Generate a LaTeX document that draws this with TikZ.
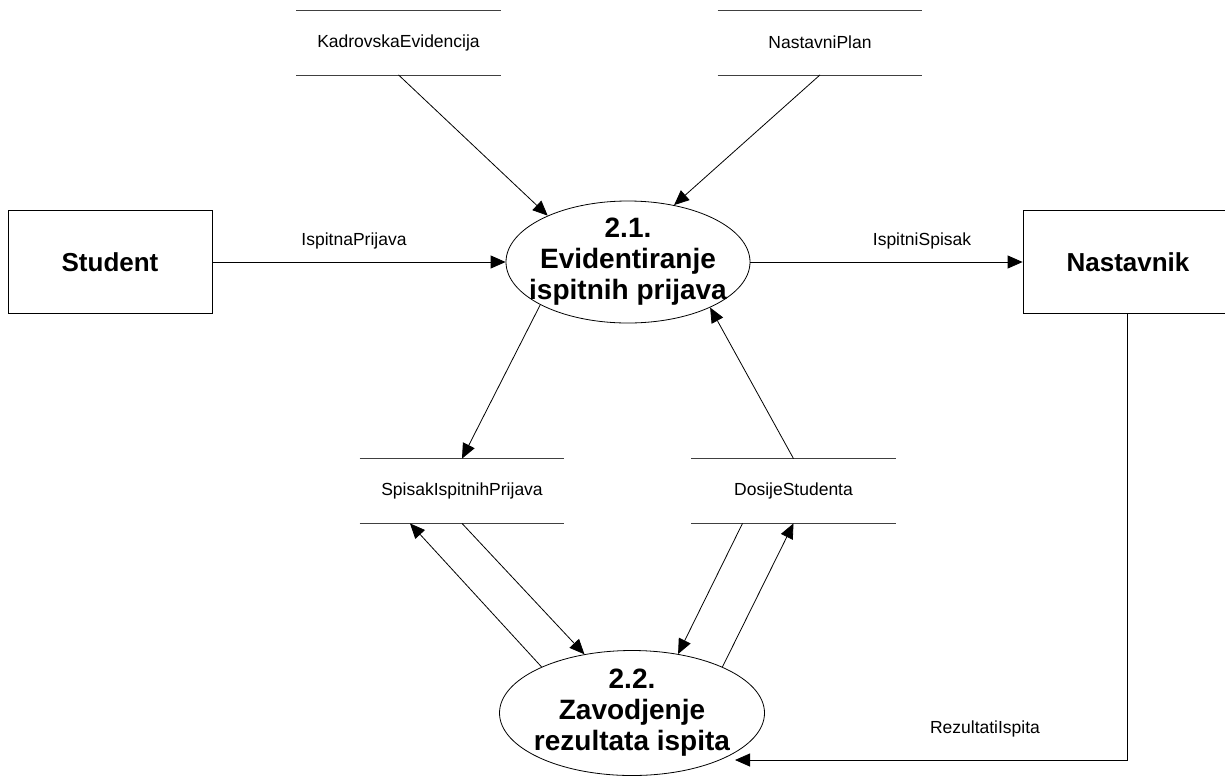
\documentclass[tikz,border=0pt]{standalone}
\usepackage{fontspec}
\setmainfont{Liberation Sans}
\usetikzlibrary{shapes.geometric,arrows.meta,calc}
\begin{document}
\begin{tikzpicture}[x=1pt,y=-1pt,
  line width=0.8pt,
  flow/.style={-{Triangle[length=15pt,width=13pt]}},
  ext/.style={draw, minimum height=103pt, inner sep=0pt, font=\bfseries\fontsize{26}{30}\selectfont},
  proc/.style={draw, ellipse, inner sep=0pt},
  store/.style={minimum width=204pt, minimum height=64pt, inner sep=0pt, font=\fontsize{17.5}{20}\selectfont},
  storeline/.style={draw=black!75},
  lbl/.style={font=\fontsize{17.5}{20}\selectfont},
  ptext/.style={font=\bfseries\fontsize{28}{31}\selectfont, align=center}
]
\useasboundingbox (0,0) rectangle (1225,777);

% external entities
\node[ext, minimum width=204pt] (student) at (110,262) {Student};
\node[ext, minimum width=210pt] (nast) at (1128,262) {Nastavnik};

% processes
\node[proc, minimum width=244pt, minimum height=122pt,
  label={[ptext]center:{2.1.\\Evidentiranje\\ispitnih prijava}}] (p1) at (628,262) {};
\node[proc, minimum width=265pt, minimum height=125pt,
  label={[ptext]center:{2.2.\\Zavodjenje\\rezultata ispita}}] (p2) at (632,713) {};

% data stores
\node[store] (kadr) at (398.5,42.5) {KadrovskaEvidencija};
\node[store] (plan) at (820,42.5) {NastavniPlan};
\node[store] (spis) at (462,491) {SpisakIspitnihPrijava};
\node[store] (dos) at (793.5,491) {DosijeStudenta};
\foreach \s in {kadr,plan,spis,dos}{
  \draw[storeline] (\s.north west) -- (\s.north east);
  \draw[storeline] (\s.south west) -- (\s.south east);
}

% flows
\draw[flow] (kadr.south) -- (p1.150);
\draw[flow] (plan.south) -- (p1.51);
\draw[flow] (student.east) -- (p1.west);
\node[lbl] (l1) at (354,241) {IspitnaPrijava};
\draw[flow] (p1.east) -- (nast.west);
\node[lbl] (l2) at (922,241) {IspitniSpisak};
\draw[flow] (p1.206) -- (spis.north);
\draw[flow] (dos.north) -- (p1.331);
\draw[flow] (spis.south) -- (p2.129);
\draw[flow] (p2.153) -- ([xshift=-52pt]spis.south);
\draw[flow] ([xshift=-51pt]dos.south) -- (p2.52);
\draw[flow] (p2.27) -- (dos.south);
\draw[flow] ([xshift=-1pt]nast.south) |- ($(p2.center)+(103,47)$);
\node[lbl] (l3) at (985,729) {RezultatiIspita};
\end{tikzpicture}
\end{document}
